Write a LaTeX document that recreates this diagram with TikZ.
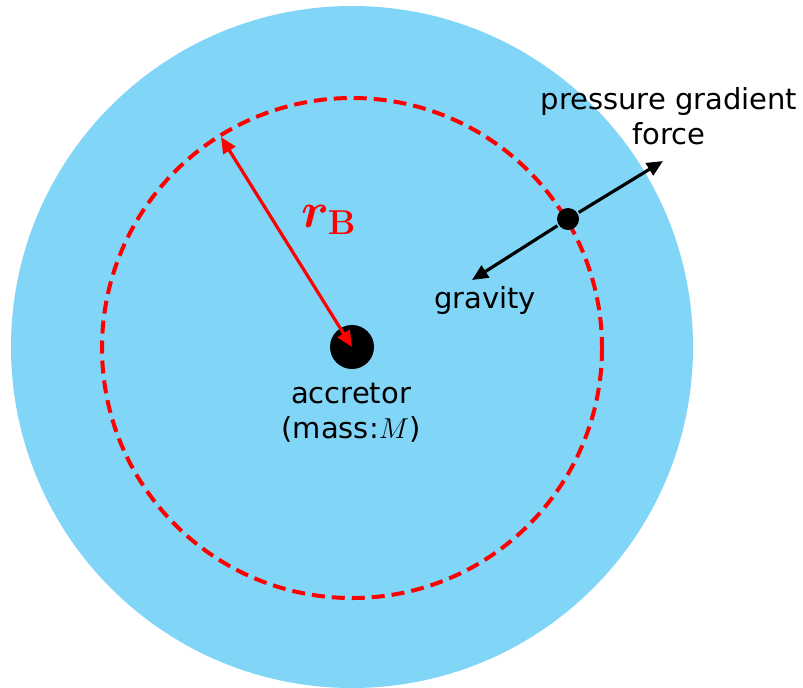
\documentclass[tikz,border=0pt]{standalone}
\usepackage[no-math]{fontspec}
\setmainfont{DejaVu Sans}
\usetikzlibrary{arrows.meta,positioning}
\definecolor{gascloud}{RGB}{129,214,247}

\begin{document}
\begin{tikzpicture}[x=0.5pt, y=-0.5pt, line width=1.6pt, >={Triangle[length=8pt,width=7pt]},
  lbl/.style={font=\fontsize{14.5}{17.5}\selectfont, align=center, inner sep=0pt}]
  \useasboundingbox (0,0) rectangle (803,687);
  \coordinate (O) at (352,347);
  \fill[gascloud] (O) circle[radius=341];
  \draw[red, line width=2pt, dash pattern=on 6.5pt off 3.5pt] (352,348) circle[radius=250];
  \node[circle, fill=black, inner sep=0pt, minimum size=22pt] (acc) at (O) {};
  \node[circle, fill=black, inner sep=0pt, minimum size=11pt] (parcel) at (568,219) {};
  \coordinate (rim) at (221,137);
  \coordinate (pgf) at (663,161);
  \coordinate (grav) at (472,280);
  \draw[red, <->] (acc.center) -- (rim);
  \draw[->] (parcel) -- (pgf);
  \draw[->] (parcel) -- (grav);
  \node[red, anchor=base west, inner sep=0pt, font=\boldmath\fontsize{25}{28}\selectfont] (rlbl) at (300,227) {$r_{\mathbf{B}}$};
  \node[lbl] (acclbl) at (351,413) {accretor\\(mass:$M$)};
  \node[lbl] (pgflbl) at (669,116) {pressure gradient\\force};
  \node[lbl, anchor=base] (gravlbl) at (485,308) {gravity};
\end{tikzpicture}
\end{document}
